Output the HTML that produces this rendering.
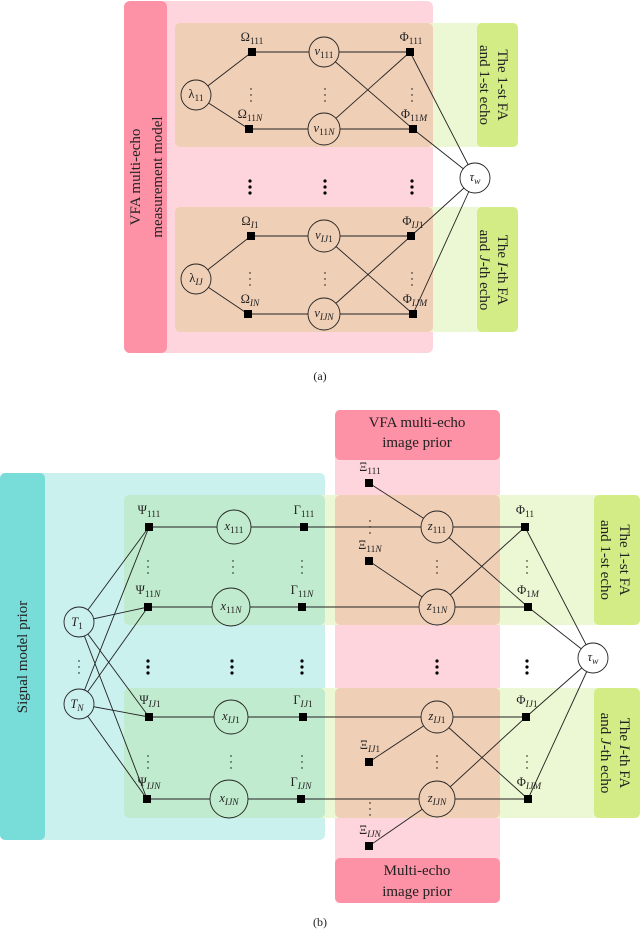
<!DOCTYPE html>
<html><head><meta charset="utf-8"><style>
html,body{margin:0;padding:0;background:#fff}
svg{display:block}
text{font-family:"Liberation Serif",serif;fill:#222}
.m{font-style:italic}
.s{font-size:9.5px;baseline-shift:-3px}
.l{font-size:12.5px}
.b{font-size:15px}
</style></head><body>
<svg width="640" height="931" viewBox="0 0 640 931" xmlns="http://www.w3.org/2000/svg">
<!-- ===== (a) ===== -->
<rect x="124" y="1" width="309" height="352" rx="6" fill="#fed5dc"/>
<rect x="124" y="1" width="43" height="352" rx="6" fill="#fd91a6"/>
<rect x="175" y="23" width="343" height="124" rx="5" fill="#ecf7d3"/>
<rect x="175" y="207" width="343" height="125" rx="5" fill="#ecf7d3"/>
<rect x="175" y="23" width="258" height="124" rx="5" fill="#f0cfb7"/>
<rect x="175" y="207" width="258" height="125" rx="5" fill="#f0cfb7"/>
<rect x="477" y="23" width="41" height="124" rx="5" fill="#d3ec86"/>
<rect x="477" y="207" width="41" height="125" rx="5" fill="#d3ec86"/>
<text class="b" transform="translate(140,177) rotate(-90)" text-anchor="middle">VFA multi-echo</text>
<text class="b" transform="translate(162,177) rotate(-90)" text-anchor="middle">measurement model</text>
<text class="b" transform="translate(498,85) rotate(90)" text-anchor="middle">The 1-st FA</text>
<text class="b" transform="translate(480,85) rotate(90)" text-anchor="middle">and 1-st echo</text>
<text class="b" transform="translate(498,270) rotate(90)" text-anchor="middle">The <tspan class="m">I</tspan>-th FA</text>
<text class="b" transform="translate(480,270) rotate(90)" text-anchor="middle">and <tspan class="m">J</tspan>-th echo</text>
<g stroke="#222" stroke-width="0.9" fill="none">
<line x1="196" y1="95" x2="252" y2="52"/><line x1="196" y1="95" x2="249" y2="129"/>
<line x1="252" y1="52" x2="410" y2="52"/><line x1="249" y1="129" x2="413" y2="129"/>
<line x1="324" y1="52" x2="413" y2="129"/><line x1="324" y1="129" x2="410" y2="52"/>
<line x1="196" y1="279" x2="251" y2="236"/><line x1="196" y1="279" x2="248" y2="314"/>
<line x1="251" y1="236" x2="411" y2="236"/><line x1="248" y1="314" x2="413" y2="314"/>
<line x1="324" y1="236" x2="413" y2="314"/><line x1="324" y1="314" x2="411" y2="236"/>
<line x1="410" y1="52" x2="475" y2="178"/><line x1="413" y1="129" x2="475" y2="178"/>
<line x1="411" y1="236" x2="475" y2="178"/><line x1="413" y1="314" x2="475" y2="178"/>
</g>
<g stroke="#222" stroke-width="0.9">
<circle cx="196" cy="95" r="15" fill="#f0cfb7"/><circle cx="196" cy="279" r="15" fill="#f0cfb7"/>
<circle cx="324" cy="52" r="15" fill="#f0cfb7"/><circle cx="324" cy="129" r="16" fill="#f0cfb7"/>
<circle cx="324" cy="236" r="16" fill="#f0cfb7"/><circle cx="324" cy="314" r="16" fill="#f0cfb7"/>
<circle cx="475" cy="178" r="15" fill="#fff"/>
</g>
<g fill="#000">
<rect x="248" y="48" width="8" height="8"/><rect x="245" y="125" width="8" height="8"/>
<rect x="406" y="48" width="8" height="8"/><rect x="409" y="125" width="8" height="8"/>
<rect x="247" y="232" width="8" height="8"/><rect x="244" y="310" width="8" height="8"/>
<rect x="407" y="232" width="8" height="8"/><rect x="409" y="310" width="8" height="8"/>
<circle cx="250" cy="181" r="1.6"/><circle cx="250" cy="187" r="1.6"/><circle cx="250" cy="193" r="1.6"/>
<circle cx="325" cy="181" r="1.6"/><circle cx="325" cy="187" r="1.6"/><circle cx="325" cy="193" r="1.6"/>
<circle cx="412" cy="181" r="1.6"/><circle cx="412" cy="187" r="1.6"/><circle cx="412" cy="193" r="1.6"/>
<g>
<circle cx="251" cy="89" r="0.7"/><circle cx="251" cy="95" r="0.7"/><circle cx="251" cy="101" r="0.7"/>
<circle cx="325" cy="89" r="0.7"/><circle cx="325" cy="95" r="0.7"/><circle cx="325" cy="101" r="0.7"/>
<circle cx="412" cy="89" r="0.7"/><circle cx="412" cy="95" r="0.7"/><circle cx="412" cy="101" r="0.7"/>
<circle cx="250" cy="273" r="0.7"/><circle cx="250" cy="279" r="0.7"/><circle cx="250" cy="285" r="0.7"/>
<circle cx="325" cy="273" r="0.7"/><circle cx="325" cy="279" r="0.7"/><circle cx="325" cy="285" r="0.7"/>
<circle cx="412" cy="273" r="0.7"/><circle cx="412" cy="279" r="0.7"/><circle cx="412" cy="285" r="0.7"/>
</g>
</g>
<text class="l" x="196" y="98" text-anchor="middle">λ<tspan class="s">11</tspan></text>
<text class="l" x="196" y="282" text-anchor="middle">λ<tspan class="s m">IJ</tspan></text>
<text class="l" x="324" y="55" text-anchor="middle"><tspan class="m">v</tspan><tspan class="s">111</tspan></text>
<text class="l" x="324" y="132" text-anchor="middle"><tspan class="m">v</tspan><tspan class="s">11<tspan class="m">N</tspan></tspan></text>
<text class="l" x="324" y="239" text-anchor="middle"><tspan class="m">v</tspan><tspan class="s m">IJ</tspan><tspan class="s">1</tspan></text>
<text class="l" x="324" y="317" text-anchor="middle"><tspan class="m">v</tspan><tspan class="s m">IJN</tspan></text>
<text class="l" x="475" y="181" text-anchor="middle"><tspan class="m">τ</tspan><tspan class="s m">w</tspan></text>
<text class="l" x="252" y="41" text-anchor="middle">Ω<tspan class="s">111</tspan></text>
<text class="l" x="250" y="118" text-anchor="middle">Ω<tspan class="s">11<tspan class="m">N</tspan></tspan></text>
<text class="l" x="250" y="225" text-anchor="middle">Ω<tspan class="s m">I</tspan><tspan class="s">1</tspan></text>
<text class="l" x="250" y="303" text-anchor="middle">Ω<tspan class="s m">IN</tspan></text>
<text class="l" x="411" y="41" text-anchor="middle">Φ<tspan class="s">111</tspan></text>
<text class="l" x="414" y="118" text-anchor="middle">Φ<tspan class="s">11<tspan class="m">M</tspan></tspan></text>
<text class="l" x="413" y="225" text-anchor="middle">Φ<tspan class="s m">IJ</tspan><tspan class="s">1</tspan></text>
<text class="l" x="415" y="303" text-anchor="middle">Φ<tspan class="s m">IJM</tspan></text>
<text x="320" y="380" text-anchor="middle" font-size="12">(a)</text>

<!-- ===== (b) ===== -->
<rect x="0" y="473" width="325" height="367" rx="5" fill="#cbf1ee"/>
<rect x="0" y="473" width="45" height="367" rx="5" fill="#78dcd8"/>
<rect x="335" y="410" width="165" height="493" rx="5" fill="#fed5dc"/>
<rect x="124" y="495" width="516" height="130" rx="5" fill="#ecf7d3"/>
<rect x="124" y="688" width="516" height="130" rx="5" fill="#ecf7d3"/>
<rect x="124" y="495" width="201" height="130" rx="5" fill="#c0ebce"/>
<rect x="124" y="688" width="201" height="130" rx="5" fill="#c0ebce"/>
<rect x="325" y="495" width="10" height="130" fill="#ecf7d3"/>
<rect x="325" y="688" width="10" height="130" fill="#ecf7d3"/>
<rect x="335" y="495" width="165" height="130" rx="5" fill="#f0cfb7"/>
<rect x="335" y="688" width="165" height="130" rx="5" fill="#f0cfb7"/>
<rect x="335" y="410" width="165" height="50" rx="5" fill="#fd91a6"/>
<rect x="335" y="858" width="165" height="45" rx="5" fill="#fd91a6"/>
<rect x="594" y="495" width="46" height="130" rx="5" fill="#d3ec86"/>
<rect x="594" y="688" width="46" height="130" rx="5" fill="#d3ec86"/>
<text class="b" x="417" y="427" text-anchor="middle">VFA multi-echo</text>
<text class="b" x="417" y="447" text-anchor="middle">image prior</text>
<text class="b" x="417" y="875" text-anchor="middle">Multi-echo</text>
<text class="b" x="417" y="896" text-anchor="middle">image prior</text>
<text class="b" transform="translate(27,657) rotate(-90)" text-anchor="middle">Signal model prior</text>
<text class="b" transform="translate(620,560) rotate(90)" text-anchor="middle">The 1-st FA</text>
<text class="b" transform="translate(601,560) rotate(90)" text-anchor="middle">and 1-st echo</text>
<text class="b" transform="translate(620,753) rotate(90)" text-anchor="middle">The <tspan class="m">I</tspan>-th FA</text>
<text class="b" transform="translate(601,753) rotate(90)" text-anchor="middle">and <tspan class="m">J</tspan>-th echo</text>
<g stroke="#222" stroke-width="0.9" fill="none">
<line x1="79" y1="622" x2="149" y2="527"/><line x1="79" y1="622" x2="148" y2="607"/>
<line x1="79" y1="622" x2="149" y2="717"/><line x1="79" y1="622" x2="147" y2="799"/>
<line x1="79" y1="704" x2="149" y2="527"/><line x1="79" y1="704" x2="148" y2="607"/>
<line x1="79" y1="704" x2="149" y2="717"/><line x1="79" y1="704" x2="147" y2="799"/>
<line x1="149" y1="527" x2="525" y2="527"/><line x1="148" y1="607" x2="528" y2="607"/>
<line x1="149" y1="717" x2="526" y2="717"/><line x1="147" y1="799" x2="528" y2="799"/>
<line x1="369" y1="483" x2="437" y2="527"/><line x1="369" y1="561" x2="437" y2="607"/>
<line x1="369" y1="762" x2="437" y2="717"/><line x1="369" y1="846" x2="437" y2="799"/>
<line x1="437" y1="527" x2="528" y2="607"/><line x1="437" y1="607" x2="525" y2="527"/>
<line x1="437" y1="717" x2="528" y2="799"/><line x1="437" y1="799" x2="526" y2="717"/>
<line x1="525" y1="527" x2="593" y2="658"/><line x1="528" y1="607" x2="593" y2="658"/>
<line x1="526" y1="717" x2="593" y2="658"/><line x1="528" y1="799" x2="593" y2="658"/>
</g>
<g stroke="#222" stroke-width="0.9">
<circle cx="79" cy="622" r="15" fill="#cbf1ee"/><circle cx="79" cy="704" r="15" fill="#cbf1ee"/>
<ellipse cx="234" cy="527" rx="17" ry="17" fill="#c0ebce"/><ellipse cx="231" cy="607" rx="19" ry="19" fill="#c0ebce"/>
<ellipse cx="231" cy="717" rx="17" ry="17" fill="#c0ebce"/><ellipse cx="229" cy="799" rx="19" ry="19" fill="#c0ebce"/>
<circle cx="437" cy="527" r="16" fill="#f0cfb7"/><circle cx="437" cy="607" r="18" fill="#f0cfb7"/>
<circle cx="437" cy="717" r="16" fill="#f0cfb7"/><circle cx="437" cy="799" r="18" fill="#f0cfb7"/>
<circle cx="593" cy="658" r="15" fill="#fff"/>
</g>
<g fill="#000">
<rect x="145" y="523" width="8" height="8"/><rect x="144" y="603" width="8" height="8"/>
<rect x="145" y="713" width="8" height="8"/><rect x="143" y="795" width="8" height="8"/>
<rect x="300" y="523" width="8" height="8"/><rect x="298" y="603" width="8" height="8"/>
<rect x="299" y="713" width="8" height="8"/><rect x="297" y="795" width="8" height="8"/>
<rect x="521" y="523" width="8" height="8"/><rect x="524" y="603" width="8" height="8"/>
<rect x="522" y="713" width="8" height="8"/><rect x="524" y="795" width="8" height="8"/>
<rect x="365" y="479" width="8" height="8"/><rect x="365" y="557" width="8" height="8"/>
<rect x="365" y="758" width="8" height="8"/><rect x="365" y="842" width="8" height="8"/>
<g>
<circle cx="148" cy="661" r="1.6"/><circle cx="148" cy="667" r="1.6"/><circle cx="148" cy="673" r="1.6"/>
<circle cx="232" cy="661" r="1.6"/><circle cx="232" cy="667" r="1.6"/><circle cx="232" cy="673" r="1.6"/>
<circle cx="302" cy="661" r="1.6"/><circle cx="302" cy="667" r="1.6"/><circle cx="302" cy="673" r="1.6"/>
<circle cx="437" cy="661" r="1.6"/><circle cx="437" cy="667" r="1.6"/><circle cx="437" cy="673" r="1.6"/>
<circle cx="527" cy="661" r="1.6"/><circle cx="527" cy="667" r="1.6"/><circle cx="527" cy="673" r="1.6"/>
</g>
<g>
<circle cx="79" cy="661" r="0.7"/><circle cx="79" cy="667" r="0.7"/><circle cx="79" cy="673" r="0.7"/>
<circle cx="148" cy="561" r="0.7"/><circle cx="148" cy="567" r="0.7"/><circle cx="148" cy="573" r="0.7"/>
<circle cx="233" cy="561" r="0.7"/><circle cx="233" cy="567" r="0.7"/><circle cx="233" cy="573" r="0.7"/>
<circle cx="302" cy="561" r="0.7"/><circle cx="302" cy="567" r="0.7"/><circle cx="302" cy="573" r="0.7"/>
<circle cx="437" cy="561" r="0.7"/><circle cx="437" cy="567" r="0.7"/><circle cx="437" cy="573" r="0.7"/>
<circle cx="527" cy="561" r="0.7"/><circle cx="527" cy="567" r="0.7"/><circle cx="527" cy="573" r="0.7"/>
<circle cx="148" cy="756" r="0.7"/><circle cx="148" cy="762" r="0.7"/><circle cx="148" cy="768" r="0.7"/>
<circle cx="231" cy="756" r="0.7"/><circle cx="231" cy="762" r="0.7"/><circle cx="231" cy="768" r="0.7"/>
<circle cx="302" cy="756" r="0.7"/><circle cx="302" cy="762" r="0.7"/><circle cx="302" cy="768" r="0.7"/>
<circle cx="437" cy="756" r="0.7"/><circle cx="437" cy="762" r="0.7"/><circle cx="437" cy="768" r="0.7"/>
<circle cx="527" cy="756" r="0.7"/><circle cx="527" cy="762" r="0.7"/><circle cx="527" cy="768" r="0.7"/>
<circle cx="370" cy="521" r="0.7"/><circle cx="370" cy="527" r="0.7"/><circle cx="370" cy="533" r="0.7"/>
<circle cx="370" cy="803" r="0.7"/><circle cx="370" cy="809" r="0.7"/><circle cx="370" cy="815" r="0.7"/>
</g>
</g>
<text class="l m" x="77" y="626" text-anchor="middle">T<tspan class="s" font-style="normal">1</tspan></text>
<text class="l m" x="77" y="708" text-anchor="middle">T<tspan class="s">N</tspan></text>
<text class="l" x="234" y="530" text-anchor="middle"><tspan class="m">x</tspan><tspan class="s">111</tspan></text>
<text class="l" x="231" y="610" text-anchor="middle"><tspan class="m">x</tspan><tspan class="s">11<tspan class="m">N</tspan></tspan></text>
<text class="l" x="231" y="720" text-anchor="middle"><tspan class="m">x</tspan><tspan class="s m">IJ</tspan><tspan class="s">1</tspan></text>
<text class="l" x="229" y="802" text-anchor="middle"><tspan class="m">x</tspan><tspan class="s m">IJN</tspan></text>
<text class="l" x="437" y="530" text-anchor="middle"><tspan class="m">z</tspan><tspan class="s">111</tspan></text>
<text class="l" x="437" y="610" text-anchor="middle"><tspan class="m">z</tspan><tspan class="s">11<tspan class="m">N</tspan></tspan></text>
<text class="l" x="437" y="720" text-anchor="middle"><tspan class="m">z</tspan><tspan class="s m">IJ</tspan><tspan class="s">1</tspan></text>
<text class="l" x="437" y="802" text-anchor="middle"><tspan class="m">z</tspan><tspan class="s m">IJN</tspan></text>
<text class="l" x="593" y="661" text-anchor="middle"><tspan class="m">τ</tspan><tspan class="s m">w</tspan></text>
<text class="l" x="149" y="514" text-anchor="middle">Ψ<tspan class="s">111</tspan></text>
<text class="l" x="148" y="594" text-anchor="middle">Ψ<tspan class="s">11<tspan class="m">N</tspan></tspan></text>
<text class="l" x="150" y="704" text-anchor="middle">Ψ<tspan class="s m">IJ</tspan><tspan class="s">1</tspan></text>
<text class="l" x="149" y="786" text-anchor="middle">Ψ<tspan class="s m">IJN</tspan></text>
<text class="l" x="304" y="514" text-anchor="middle">Γ<tspan class="s">111</tspan></text>
<text class="l" x="302" y="594" text-anchor="middle">Γ<tspan class="s">11<tspan class="m">N</tspan></tspan></text>
<text class="l" x="303" y="704" text-anchor="middle">Γ<tspan class="s m">IJ</tspan><tspan class="s">1</tspan></text>
<text class="l" x="301" y="786" text-anchor="middle">Γ<tspan class="s m">IJN</tspan></text>
<text class="l" x="370" y="471" text-anchor="middle">Ξ<tspan class="s">111</tspan></text>
<text class="l" x="370" y="549" text-anchor="middle">Ξ<tspan class="s">11<tspan class="m">N</tspan></tspan></text>
<text class="l" x="370" y="749" text-anchor="middle">Ξ<tspan class="s m">IJ</tspan><tspan class="s">1</tspan></text>
<text class="l" x="370" y="834" text-anchor="middle">Ξ<tspan class="s m">IJN</tspan></text>
<text class="l" x="525" y="514" text-anchor="middle">Φ<tspan class="s">11</tspan></text>
<text class="l" x="528" y="594" text-anchor="middle">Φ<tspan class="s">1<tspan class="m">M</tspan></tspan></text>
<text class="l" x="527" y="704" text-anchor="middle">Φ<tspan class="s m">IJ</tspan><tspan class="s">1</tspan></text>
<text class="l" x="529" y="786" text-anchor="middle">Φ<tspan class="s m">IJM</tspan></text>
<text x="320" y="926" text-anchor="middle" font-size="12">(b)</text>
</svg>
</body></html>
